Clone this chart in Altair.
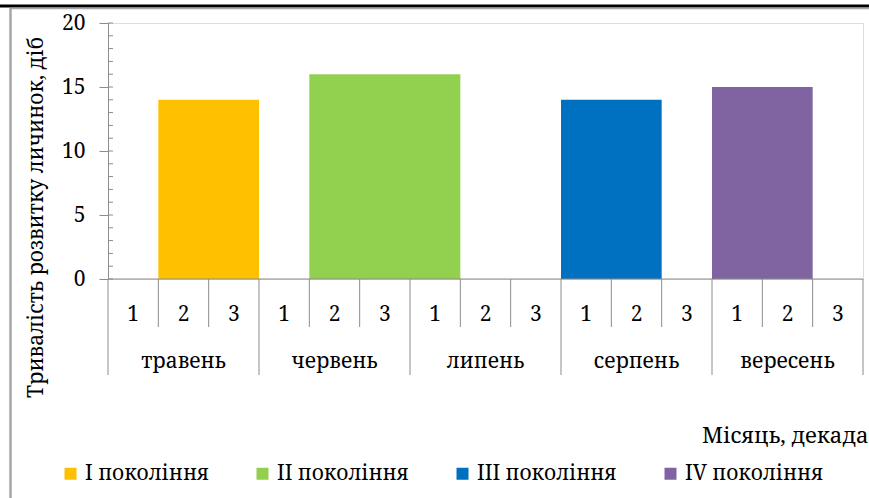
import altair as alt
import pandas as pd

months = ["травень", "червень", "липень", "серпень", "вересень"]
decades = ["1", "2", "3"]
generations = ["I покоління", "II покоління", "III покоління", "IV покоління"]
start_month = ["травень", "червень", "серпень", "вересень"]
start_decade = [2, 2, 1, 1]
end_month = ["травень", "липень", "серпень", "вересень"]
end_decade = [3, 1, 2, 2]
durations = [14, 16, 14, 15]
colors = ["#FFC000", "#92D050", "#0070C0", "#8064A2"]
y_ticks = [0, 5, 10, 15, 20]
y_title = "Тривалість розвитку личинок, діб"
x_title = "Місяць, декада"

FONT = "Noto Serif"
FS = 21
GRAY = "#8c8c8c"
W, H = 755, 256

bars_df = pd.DataFrame({
    "gen": generations,
    "start": [months.index(m) * 3 + d - 1 for m, d in zip(start_month, start_decade)],
    "end": [months.index(m) * 3 + d for m, d in zip(end_month, end_decade)],
    "value": durations,
})

dec_df = pd.DataFrame({
    "pos": [mi * 3 + di + 0.5 for mi in range(len(months)) for di in range(len(decades))],
    "label": [d for _ in months for d in decades],
})
mon_df = pd.DataFrame({"pos": [mi * 3 + 1.5 for mi in range(len(months))], "label": months})
n = len(months) * len(decades)
dec_sep = pd.DataFrame({"pos": [i for i in range(n + 1) if i % 3 != 0]})
mon_sep = pd.DataFrame({"pos": [i for i in range(n + 1) if i % 3 == 0]})
minor_df = pd.DataFrame({"v": list(range(0, 21))})
base_df = pd.DataFrame({"a": [0], "b": [n], "y": [0]})

xs = alt.Scale(domain=[0, n], nice=False, zero=False)
ys = alt.Scale(domain=[0, 20], nice=False)

bars = alt.Chart(bars_df).mark_bar().encode(
    x=alt.X("start:Q", scale=xs, axis=None),
    x2="end:Q",
    y=alt.Y("value:Q", scale=ys, axis=alt.Axis(
        values=y_ticks, title=y_title, grid=False, tickSize=9, labelPadding=14,
        domainColor=GRAY, tickColor=GRAY, labelColor="black", titleColor="black",
        labelFont=FONT, labelFontSize=FS, titleFont=FONT, titleFontSize=FS,
        titleFontWeight="normal", titleX=-62, titleY=194, titleAngle=270,
        titleBaseline="bottom")),
    y2=alt.datum(0),
    color=alt.Color("gen:N", scale=alt.Scale(domain=generations, range=colors),
                    legend=alt.Legend(title=None, orient="none", legendX=-48, legendY=440,
                                      direction="horizontal", symbolType="square",
                                      symbolSize=144, symbolStrokeWidth=0, padding=0,
                                      labelFont=FONT, labelFontSize=FS, labelColor="black",
                                      labelOffset=4, columnPadding=43, labelLimit=300)),
)

minor = alt.Chart(minor_df).mark_rule(color=GRAY, strokeWidth=1).encode(
    y=alt.Y("v:Q", scale=ys), x=alt.value(0), x2=alt.value(5))

baseline = alt.Chart(base_df).mark_rule(color=GRAY, strokeWidth=1).encode(
    x=alt.X("a:Q", scale=xs), x2="b:Q", y=alt.Y("y:Q", scale=ys))

dsep = alt.Chart(dec_sep).mark_rule(color=GRAY, strokeWidth=1).encode(
    x=alt.X("pos:Q", scale=xs), y=alt.value(H), y2=alt.value(H + 48))
msep = alt.Chart(mon_sep).mark_rule(color=GRAY, strokeWidth=1).encode(
    x=alt.X("pos:Q", scale=xs), y=alt.value(H), y2=alt.value(H + 96))

dlab = alt.Chart(dec_df).mark_text(font=FONT, fontSize=FS, color="black",
                                   baseline="alphabetic", align="center").encode(
    x=alt.X("pos:Q", scale=xs), y=alt.value(H + 42), text="label:N")
mlab = alt.Chart(mon_df).mark_text(font=FONT, fontSize=FS, color="black",
                                   baseline="alphabetic", align="center").encode(
    x=alt.X("pos:Q", scale=xs), y=alt.value(H + 89), text="label:N")

xt = alt.Chart(pd.DataFrame({"t": [x_title]})).mark_text(
    font=FONT, fontSize=22, color="black", baseline="alphabetic", align="left").encode(
    x=alt.value(594), y=alt.value(420), text="t:N")

frame_top = alt.Chart(pd.DataFrame({"k": [0]})).mark_rule(color="black", strokeWidth=3).encode(
    x=alt.value(-108), x2=alt.value(W + 6), y=alt.value(-17))
frame_top2 = alt.Chart(pd.DataFrame({"k": [0]})).mark_rule(color="#a6a6a6", strokeWidth=1.5).encode(
    x=alt.value(-98), x2=alt.value(W + 6), y=alt.value(-14.5))
frame_left = alt.Chart(pd.DataFrame({"k": [0]})).mark_rule(color="#a6a6a6", strokeWidth=2.5).encode(
    x=alt.value(-97.5), y=alt.value(-15), y2=alt.value(480))

chart = alt.layer(
    bars, minor, baseline, dsep, msep, dlab, mlab, xt, frame_top, frame_top2, frame_left
).properties(
    width=W, height=H,
    autosize=alt.AutoSizeParams(type="none"),
    padding={"left": 108, "top": 23, "right": 6, "bottom": 219},
).configure_view(stroke=None).configure(background="white")

chart.save("out.html", embed_options={"renderer": "svg", "actions": False})
